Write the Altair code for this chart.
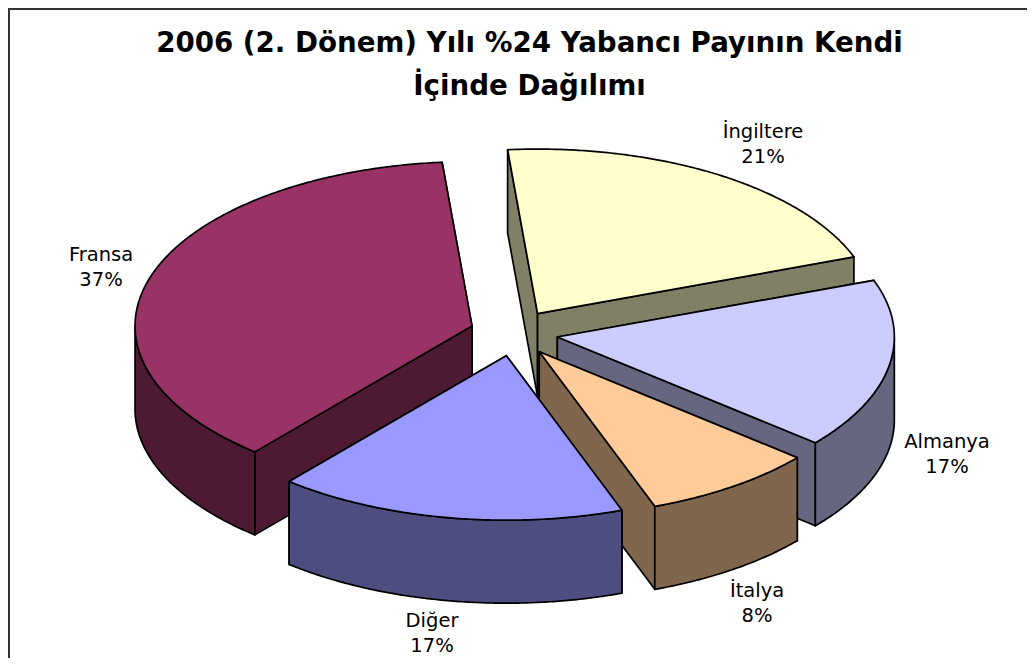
import math
import altair as alt

# --- data ---
categories = ["İngiltere", "Almanya", "İtalya", "Diğer", "Fransa"]
values = [20.8, 16.7, 8.3, 16.7, 37.4]
top_colors = ["#FFFFCC", "#CCCCFF", "#FFCC99", "#9999FF", "#993366"]
wall_colors = ["#808066", "#666680", "#80664D", "#4D4D80", "#4D1933"]
title_lines = ["2006 (2. Dönem) Yılı %24 Yabancı Payının Kendi", "İçinde Dağılımı"]

# --- layout of the drawing (pixels of the plot area) ---
CX, CY = 506.0, 325.0
RX, RY = 337.0, 164.5
DEPTH = 83.0
EXPLODE_X, EXPLODE_Y = 44.0, 23.0
START_DEG = -5.1
W, H = 1019, 650
PAINT_ORDER = ["İngiltere", "Almanya", "Fransa", "İtalya", "Diğer"]
LABEL_AT = {
    "İngiltere": (755, 124),
    "Almanya": (939, 434),
    "İtalya": (749, 583),
    "Diğer": (424, 613),
    "Fransa": (93, 247),
}

total = sum(values)
slices = {}
a = START_DEG
for cat, v, tc, wc in zip(categories, values, top_colors, wall_colors):
    span = 360.0 * v / total
    slices[cat] = dict(start=a, end=a + span, top=tc, wall=wc)
    a += span


def feature(ring, fill, name):
    return {
        "type": "Feature",
        "properties": {"fill": fill, "name": name},
        "geometry": {"type": "Polygon", "coordinates": [ring + [ring[0]]]},
    }


features = []
for name in PAINT_ORDER:
    s = slices[name]
    mid = math.radians((s["start"] + s["end"]) / 2)
    ax = CX + EXPLODE_X * math.sin(mid)
    ay = CY - EXPLODE_Y * math.cos(mid)

    def rim(deg):
        t = math.radians(deg)
        return [ax + RX * math.sin(t), ay - RY * math.cos(t)]

    n = max(2, int((s["end"] - s["start"]) * 2))
    degs = [s["start"] + (s["end"] - s["start"]) * i / n for i in range(n + 1)]
    arc = [rim(d) for d in degs]

    down = lambda p: [p[0], p[1] + DEPTH]
    apex = [ax, ay]
    # cut walls, the one reaching lower on the picture painted last
    for edge in sorted((arc[0], arc[-1]), key=lambda p: p[1]):
        features.append(feature([apex, edge, down(edge), down(apex)], s["wall"], name))
    # outer wall, only the part of the rim that faces the viewer
    front = [d for d in degs if 90 <= d % 360 <= 270]
    if front:
        pts = [rim(d) for d in front]
        features.append(feature(pts + [down(p) for p in reversed(pts)], s["wall"], name))
    # top face
    features.append(feature([apex] + arc, s["top"], name))

projection = alt.Projection(type="identity", scale=1, translate=[0, 0])

shapes = (
    alt.Chart(alt.Data(values=features, format=alt.DataFormat(type="json")))
    .mark_geoshape(stroke="black", strokeWidth=1.7, strokeJoin="round")
    .encode(fill=alt.Fill("properties.fill:N", scale=None))
)

label_rows = [
    {
        "text": f"{c}\n{round(v)}%",
        "lon": LABEL_AT[c][0],
        "lat": LABEL_AT[c][1],
    }
    for c, v in zip(categories, values)
]
labels = (
    alt.Chart(alt.Data(values=label_rows))
    .mark_text(font="DejaVu Sans", fontSize=19.5, lineBreak="\n", lineHeight=25, color="black", align="center", baseline="middle")
    .encode(longitude="lon:Q", latitude="lat:Q", text="text:N")
)

left_border = alt.Chart(alt.Data(values=[{"a": 0}])).mark_rule(color="#333333", strokeWidth=2).encode(
    x=alt.value(1), y=alt.value(0), y2=alt.value(H)
)
top_border = alt.Chart(alt.Data(values=[{"a": 0}])).mark_rule(color="#333333", strokeWidth=2).encode(
    y=alt.value(1), x=alt.value(0), x2=alt.value(W)
)

chart = (
    alt.layer(shapes, labels, left_border, top_border)
    .properties(
        width=W,
        height=H,
        padding=0,
        autosize=alt.AutoSizeParams(type="none"),
        projection=projection,
        title=alt.TitleParams(
            text=title_lines,
            font="DejaVu Sans",
            fontSize=27.7,
            fontWeight="bold",
            color="black",
            anchor="middle",
            orient="top",
            baseline="top",
            lineHeight=42.5,
            offset=-93.5,
            dx=12,
        ),
    )
    .configure_view(stroke=None)
    .configure(background="white")
)

chart.save("out.html", embed_options={"renderer": "svg", "actions": False})
